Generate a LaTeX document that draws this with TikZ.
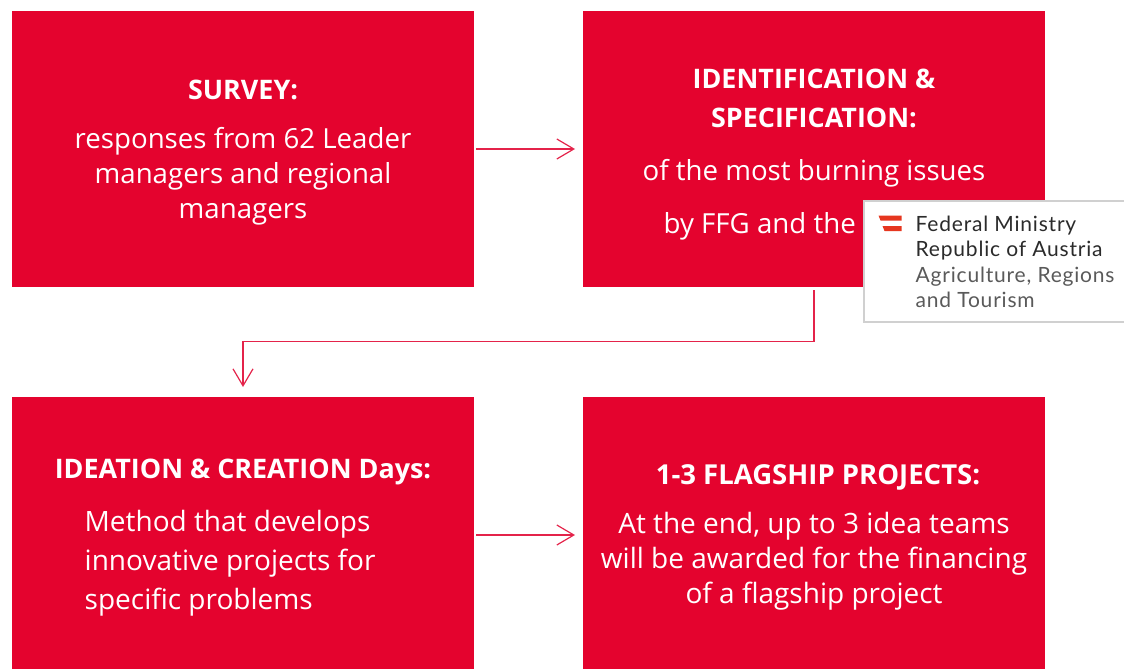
\documentclass[tikz,border=0pt]{standalone}
\usepackage{fontspec}
\setmainfont{Open Sans}
\newfontfamily\logofont[LetterSpace=3.8]{Lato}
\definecolor{boxred}{HTML}{E4032E}
\definecolor{linkred}{HTML}{E4234A}
\definecolor{flagred}{HTML}{E6361F}
\definecolor{logodark}{HTML}{2B2B2B}
\definecolor{logogrey}{HTML}{5A5A5A}
\tikzset{
  redbox/.style={fill=boxred,draw=none,minimum width=462pt,inner sep=0pt,outer sep=0pt,anchor=north west},
  head/.style={text=white,font=\fontsize{26.9pt}{31pt}\selectfont\bfseries,align=center,inner sep=0pt},
  body/.style={text=white,font=\fontsize{27.65pt}{35pt}\selectfont,align=center,inner sep=0pt},
  link/.style={draw=linkred,line width=1.2pt,-{Straight Barb[length=17pt,width=20pt,line width=1.2pt]}},
  logotext/.style={font=\logofont\fontsize{21pt}{26pt}\selectfont,anchor=base west,inner sep=0pt},
}
\usetikzlibrary{arrows.meta}
\begin{document}
\begin{tikzpicture}[x=1pt,y=-1pt]
\useasboundingbox (0,0) rectangle (1124,669);
\node[redbox,minimum height=276pt] (b1) at (12,11) {};
\node[redbox,minimum height=276pt] (b2) at (583,11) {};
\node[redbox,minimum height=272pt] (b3) at (12,397) {};
\node[redbox,minimum height=272pt] (b4) at (583,397) {};
% box 1
\node[head] (t1) at (243,90) {SURVEY:};
\node[body] (t1b) at (243,176) {responses from 62 Leader\\managers and regional\\managers};
% box 2
\node[head,font=\fontsize{26.9pt}{39pt}\selectfont\bfseries] (t2) at (814,98) {IDENTIFICATION \&\\SPECIFICATION:};
\node[body] (t2b) at (814,173) {of the most burning issues};
\node[body,anchor=west] (t2c) at (663.5,226) {by FFG and the};
% box 3
\node[head] (t3) at (243,472) {IDEATION \& CREATION Days:};
\node[body,align=left,font=\fontsize{28pt}{39pt}\selectfont,anchor=west] (t3b) at (84.5,563) {Method that develops\\innovative projects for\\specific problems};
% box 4
\node[head,font=\fontsize{27.5pt}{31pt}\selectfont\bfseries] (t4) at (818,477) {1-3 FLAGSHIP PROJECTS:};
\node[body,font=\fontsize{28pt}{35pt}\selectfont] (t4b) at (814,561) {At the end, up to 3 idea teams\\will be awarded for the financing\\of a flagship project};
% connectors
\draw[link,shorten <=2pt,shorten >=8pt] (b1.east |- 0,149) coordinate (a1) -- (b2.west |- 0,149) coordinate (a2);
\draw[link,shorten <=2pt,shorten >=8pt] (b3.east |- 0,535) coordinate (a3) -- (b4.west |- 0,535) coordinate (a4);
\draw[link,shorten <=3pt,shorten >=10pt] (b2.south) -- (b2.south |- 0,341.5) -- (b3.north |- 0,341.5) -- (b3.north);
% logo
\node[fill=white,draw={rgb,255:red,208;green,208;blue,208},line width=1.8pt,minimum width=266pt,minimum height=121.5pt,inner sep=0pt,anchor=north west] (logo) at (862.8,199.8) {};
\fill[flagred] (878.5,215.5) -- (901.5,215.5) -- (901.5,220.5) -- (880.5,220.5) -- cycle;
\fill[flagred] (882.5,226) -- (901.5,226) -- (901.5,231) -- (884.5,231) -- cycle;
\node[logotext,text=logodark] (l1) at (915.5,231) {Federal Ministry};
\node[logotext,text=logodark] (l2) at (915.5,256) {Republic of Austria};
\node[logotext,text=logogrey] (l3) at (915.5,282) {Agriculture, Regions};
\node[logotext,text=logogrey] (l4) at (915.5,307) {and Tourism};
\end{tikzpicture}
\end{document}
